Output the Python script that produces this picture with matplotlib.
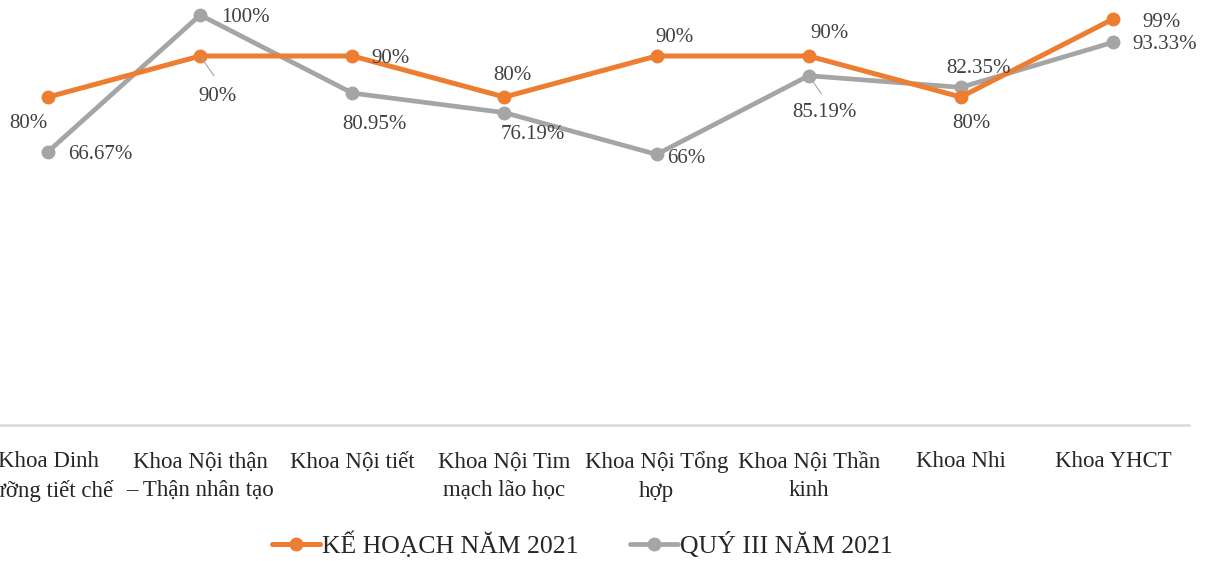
import matplotlib
matplotlib.use("Agg")
import matplotlib.pyplot as plt

categories = [
    "Khoa Dinh\ndưỡng tiết chế",
    "Khoa Nội thận\n– Thận nhân tạo",
    "Khoa Nội tiết",
    "Khoa Nội Tim\nmạch lão học",
    "Khoa Nội Tổng\nhợp",
    "Khoa Nội Thần\nkinh",
    "Khoa Nhi",
    "Khoa YHCT",
]
ke_hoach = [80, 90, 90, 80, 90, 90, 80, 99]
quy_iii = [66.67, 100, 80.95, 76.19, 66, 85.19, 82.35, 93.33]
ke_hoach_labels = ["80%", "90%", "90%", "80%", "90%", "90%", "80%", "99%"]
quy_iii_labels = ["66.67%", "100%", "80.95%", "76.19%", "66%", "85.19%", "82.35%", "93.33%"]
series_names = ["KẾ HOẠCH NĂM 2021", "QUÝ III NĂM 2021"]

ORANGE = "#ED7D31"
GRAY = "#A5A5A5"
TXT = "#404040"
FONT = ["Liberation Serif", "DejaVu Serif"]

plt.rcParams["font.family"] = FONT

W, H = 1214, 561
fig = plt.figure(figsize=(W / 100, H / 100), dpi=100)
ax_left, ax_right, ax_bottom_px = -28, 1189, 425
ax = fig.add_axes([ax_left / W, 1 - ax_bottom_px / H, (ax_right - ax_left) / W, ax_bottom_px / H])
ax.set_facecolor("white")

x = list(range(len(categories)))
ax.set_xlim(-0.5, len(categories) - 0.5)
ax.set_ylim(0, 425 / 4.1)

l1, = ax.plot(x, ke_hoach, color=ORANGE, lw=3.6, marker="o", ms=9, zorder=3,
              solid_capstyle="round", label=series_names[0])
l2, = ax.plot(x, quy_iii, color=GRAY, lw=3.4, marker="o", ms=9, zorder=2,
              solid_capstyle="round", label=series_names[1])

# label offsets in pixels (dx, dy) with dy positive downward
off_kh = [(-20, 26), (17, 40), (38, 2), (8, -22), (18, -19), (21, -22), (11, 26), (49, 3)]
off_q3 = [(52, 3), (45, 3), (22, 31), (28, 22), (30, 4), (16, 37), (18, -19), (52, 2)]
leader_kh = [False, True, False, False, False, False, False, False]
leader_q3 = [False, False, False, False, False, True, False, False]

def add_labels(vals, labels, offs, leaders):
    for xi, v, t, (dx, dy), ld in zip(x, vals, labels, offs, leaders):
        ax.annotate(t, (xi, v), xytext=(dx, -dy), textcoords="offset pixels",
                    ha="center", va="center", fontsize=15, color=TXT, zorder=5)
        if ld:
            ax.annotate("", (xi, v), xytext=(dx * 0.9, -dy * 0.55), textcoords="offset pixels",
                        arrowprops=dict(arrowstyle="-", color=GRAY, lw=0.8), zorder=4)

add_labels(ke_hoach, ke_hoach_labels, off_kh, leader_kh)
add_labels(quy_iii, quy_iii_labels, off_q3, leader_q3)

for s in ["top", "right", "left"]:
    ax.spines[s].set_visible(False)
ax.spines["bottom"].set_color("#D9D9D9")
ax.spines["bottom"].set_linewidth(1.8)
ax.set_yticks([])
ax.set_xticks(x)
ax.set_xticklabels(categories, fontsize=16.5, color="#262626", linespacing=1.45)
ax.tick_params(axis="x", length=0, pad=19)

fig.legend(handles=[l1, l2], labels=series_names, loc="center",
           bbox_to_anchor=(582 / W, 1 - 545 / H), ncol=2, frameon=False,
           fontsize=18.5, handlelength=1.9, handletextpad=0.05, columnspacing=2.0,
           labelcolor="#262626")

fig.savefig("out.png", dpi=100, facecolor="white")
